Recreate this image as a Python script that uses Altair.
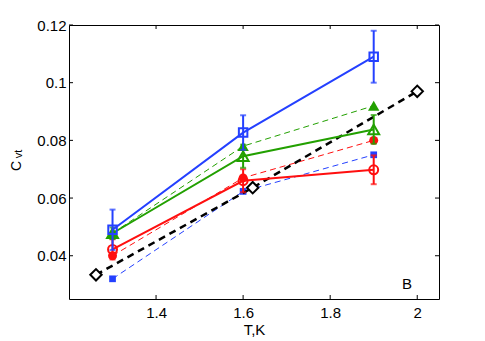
import altair as alt
import pandas as pd

# ---- data ----
T3 = [1.3, 1.6, 1.9]

blue_open = [0.049, 0.0827, 0.109]
blue_open_err = [0.007, 0.006, 0.009]
green_open = [0.0478, 0.0745, 0.0838]
green_open_err = [0.002, 0.004, 0.005]
red_open = [0.0422, 0.066, 0.0698]
red_open_err = [0.0035, 0.004, 0.005]

blue_filled = [0.032, 0.0623, 0.075]
green_filled = [0.0478, 0.078, 0.092]
red_filled = [0.040, 0.067, 0.080]

T_black = [1.262, 1.622, 2.0]
black_diamond = [0.0334, 0.0636, 0.097]

x_ticks = [1.4, 1.6, 1.8, 2.0]
y_ticks = [0.04, 0.06, 0.08, 0.10, 0.12]

BLUE = "#2440ff"
GREEN = "#22a000"
RED = "#ff0f0f"
FONT = "Liberation Sans"

W, H = 370, 274
xs = alt.Scale(domain=[1.2, 2.05], nice=False, zero=False)
ys = alt.Scale(domain=[0.025, 0.12], nice=False, zero=False)

def frame(T, C, err=None):
    d = pd.DataFrame({"T": T, "C": C})
    if err is not None:
        d["lo"] = [c - e for c, e in zip(C, err)]
        d["hi"] = [c + e for c, e in zip(C, err)]
    return d

X = alt.X("T:Q", scale=xs, axis=alt.Axis(values=x_ticks, format="~g", title="T,K"))
Y = alt.Y("C:Q", scale=ys, axis=alt.Axis(values=y_ticks, format="~g", title=None))

def dashed(T, C, color, shape, size):
    d = frame(T, C)
    base = alt.Chart(d)
    line = base.mark_line(color=color, strokeWidth=1, strokeDash=[6, 4]).encode(x=X, y=Y)
    pts = base.mark_point(shape=shape, filled=True, color=color, size=size, opacity=1).encode(x=X, y=Y)
    return line + pts

def solid(T, C, err, color, shape, size):
    d = frame(T, C, err)
    base = alt.Chart(d)
    line = base.mark_line(color=color, strokeWidth=2).encode(x=X, y=Y)
    bar = base.mark_rule(color=color, strokeWidth=2).encode(x=X, y=alt.Y("lo:Q", scale=ys), y2="hi:Q")
    cap1 = base.mark_tick(color=color, thickness=2, size=6, orient="horizontal").encode(x=X, y=alt.Y("lo:Q", scale=ys))
    cap2 = base.mark_tick(color=color, thickness=2, size=6, orient="horizontal").encode(x=X, y=alt.Y("hi:Q", scale=ys))
    pts = base.mark_point(shape=shape, filled=False, color=color, size=size, strokeWidth=2, opacity=1).encode(x=X, y=Y)
    return bar + cap1 + cap2 + line + pts

# frame ticks (inward)
xt = pd.DataFrame({"T": x_ticks})
yt = pd.DataFrame({"C": y_ticks})
tk = 4
ticks = (
    alt.Chart(xt).mark_rule(color="black", strokeWidth=1).encode(x=X, y=alt.value(0), y2=alt.value(tk))
    + alt.Chart(xt).mark_rule(color="black", strokeWidth=1).encode(x=X, y=alt.value(H), y2=alt.value(H - tk))
    + alt.Chart(yt).mark_rule(color="black", strokeWidth=1).encode(y=Y, x=alt.value(0), x2=alt.value(tk))
    + alt.Chart(yt).mark_rule(color="black", strokeWidth=1).encode(y=Y, x=alt.value(W), x2=alt.value(W - tk))
)

dblack = frame(T_black, black_diamond)
black = (
    alt.Chart(dblack).mark_line(color="black", strokeWidth=2.5, strokeDash=[7, 5]).encode(x=X, y=Y)
    + alt.Chart(dblack).mark_point(shape="diamond", filled=True, fill="white", stroke="black",
                                   strokeWidth=2, size=130, opacity=1).encode(x=X, y=Y)
)

anno = pd.DataFrame({"t": ["x"]})
txtB = alt.Chart(anno).mark_text(text="B", font=FONT, fontSize=15, align="center", baseline="middle",
                                 color="black").encode(x=alt.value(338), y=alt.value(259))
txtC = alt.Chart(anno).mark_text(text="C", font=FONT, fontSize=14, angle=270, align="center",
                                 baseline="middle", color="black").encode(x=alt.value(-52), y=alt.value(141))
txtS = alt.Chart(anno).mark_text(text="vt", font=FONT, fontSize=11, angle=270, align="center",
                                 baseline="middle", color="black").encode(x=alt.value(-50), y=alt.value(129))

chart = alt.layer(
    ticks,
    dashed(T3, blue_filled, BLUE, "square", 45),
    dashed(T3, red_filled, RED, "circle", 80),
    dashed(T3, green_filled, GREEN, "triangle-up", 130),
    black,
    solid(T3, red_open, red_open_err, RED, "circle", 80),
    solid(T3, green_open, green_open_err, GREEN, "triangle-up", 120),
    solid(T3, blue_open, blue_open_err, BLUE, "square", 72),
    txtB, txtC, txtS,
).properties(
    width=W, height=H,
    autosize=alt.AutoSizeParams(type="none"),
    padding={"left": 61, "top": 17, "right": 38, "bottom": 44},
).configure_view(
    stroke="black", strokeWidth=1
).configure_axis(
    grid=False, domain=False, ticks=False, labelFont=FONT, labelFontSize=15, labelColor="black",
    titleFont=FONT, titleFontSize=15, titleFontWeight="normal", titleColor="black",
).configure_axisX(labelPadding=6, titlePadding=2).configure_axisY(labelPadding=3)

chart.save("out.html", embed_options={"renderer": "svg", "actions": False})
